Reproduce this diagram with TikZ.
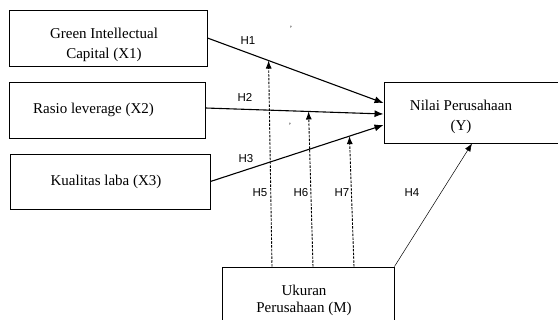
\documentclass[tikz,border=0pt]{standalone}
\usepackage{fontspec}
\setmainfont{Liberation Serif}
\newfontfamily\hfont{Liberation Sans}
\usetikzlibrary{arrows.meta}
\begin{document}
\begin{tikzpicture}[x=1pt,y=-1pt,
  box/.style={draw,line width=0.9pt,inner sep=0pt},
  txt/.style={inner sep=0pt,align=center,font=\fontsize{15}{20}\selectfont},
  mainarrow/.style={line width=1.1pt,-{Latex[length=9pt,width=7pt]}},
  modarrow/.style={line width=0.9pt,dash pattern=on 2.5pt off 1.3pt,-{Latex[length=8pt,width=6pt]}},
  thinarrow/.style={line width=0.5pt,-{Latex[length=8pt,width=6pt]}},
  hlab/.style={font=\hfont\fontsize{11.5}{13}\selectfont,inner sep=0pt},
  tick/.style={font=\fontsize{8}{8}\selectfont,inner sep=0pt}]
\useasboundingbox (0,0) rectangle (558,320);
\node[box,minimum width=198pt,minimum height=56pt] (x1) at (108,38) {};
\node[box,minimum width=196pt,minimum height=56pt] (x2) at (107,110) {};
\node[box,minimum width=200pt,minimum height=55pt] (x3) at (110,181.5) {};
\node[box,minimum width=176pt,minimum height=61pt] (y) at (472,112.5) {};
\node[box,minimum width=172pt,minimum height=58pt] (m) at (308,296) {};
\node[txt] (x1t) at (104,45) {Green Intellectual\\Capital (X1)};
\node[txt] (x2t) at (93.5,110) {Rasio leverage (X2)};
\node[txt] (x3t) at (106,181.5) {Kualitas laba (X3)};
\node[txt,font=\fontsize{15}{20.5}\selectfont] (yt) at (461,117) {Nilai Perusahaan\\(Y)};
\node[txt,font=\fontsize{15}{17.5}\selectfont] (mt) at (304,300.5) {Ukuran\\Perusahaan (M)};
% main paths
\draw[mainarrow] (x1.east) -- ([yshift=9.5pt]y.west) coordinate[pos=0.347] (p1);
\draw[mainarrow] ([yshift=2pt]x2.east) -- ([yshift=-1.5pt]y.west) coordinate[pos=0.579] (p2);
\draw[mainarrow] (x3.east) -- ([yshift=-12.5pt]y.west) coordinate[pos=0.803] (p3);
\draw[thinarrow] (m.north east) -- (y.south);
% moderation
\draw[modarrow] ([xshift=-36pt]m.north) -- (p1);
\draw[modarrow] ([xshift=5pt]m.north) -- (p2);
\draw[modarrow] ([xshift=46pt]m.north) -- (p3);
% labels
\node[hlab] (l1) at (248,41) {H1};
\node[hlab] (l2) at (245,97) {H2};
\node[hlab] (l3) at (246,159) {H3};
\node[hlab] (l5) at (260,193) {H5};
\node[hlab] (l6) at (301,193) {H6};
\node[hlab] (l7) at (342,193) {H7};
\node[hlab] (l4) at (412,193) {H4};
\node[tick] (t1) at (291,29) {'};
\node[tick] (t2) at (290,126) {'};
\end{tikzpicture}
\end{document}
